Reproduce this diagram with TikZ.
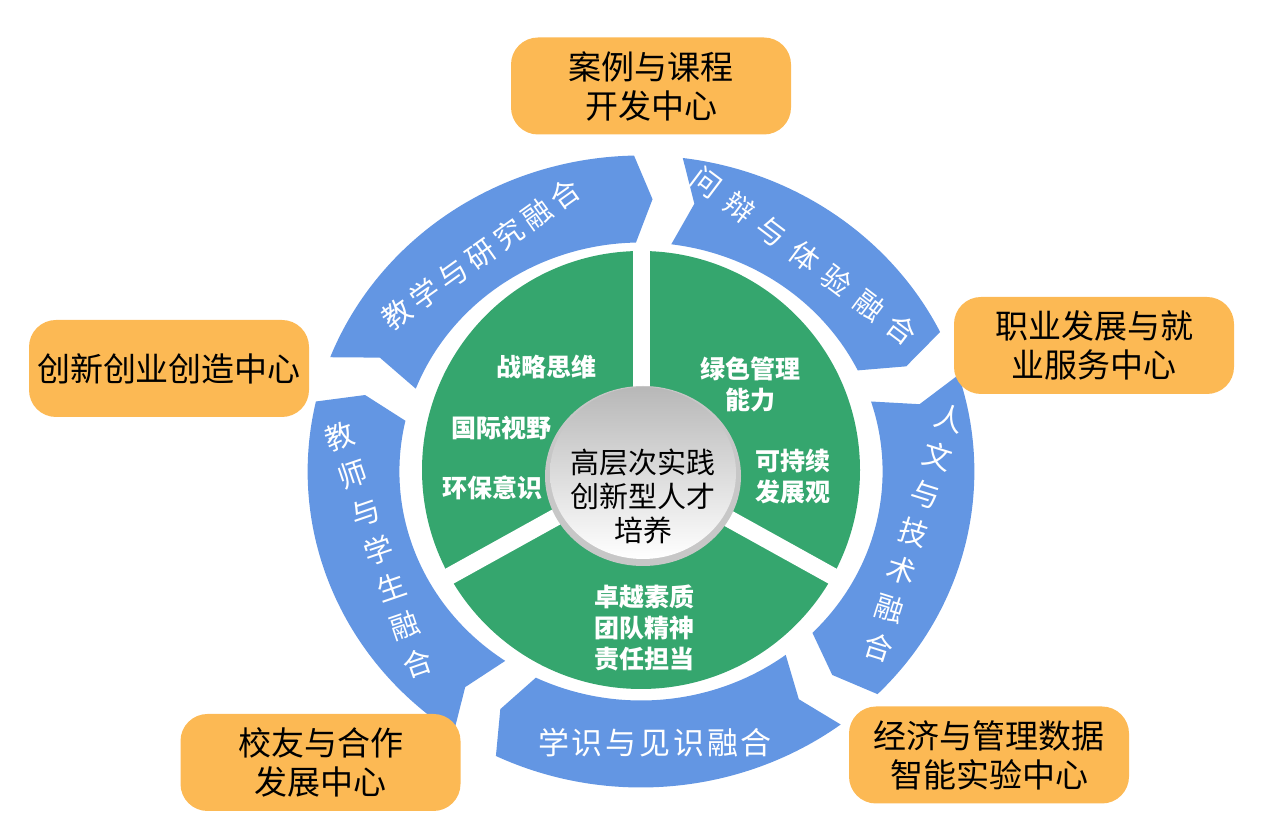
\documentclass[tikz,border=0pt]{standalone}
\usepackage{fontspec}
\newfontfamily\cjk{Noto Sans CJK SC}
\definecolor{ringblue}{HTML}{6396E3}
\definecolor{leafgreen}{HTML}{35A66E}
\definecolor{boxorange}{HTML}{FCB954}
\newcommand\spread[2]{\foreach \c [count=\n] in {#2}{\ifnum\n>1\kern#1\fi\c}}
\tikzset{
  segment/.style={fill=ringblue},
  segtext/.style={text=white, inner sep=0pt, align=center, font=\cjk\fontsize{29}{40}\selectfont},
  leaftext/.style={text=white, align=center, inner sep=0pt, font=\cjk\bfseries\fontsize{25}{31}\selectfont},
  coretext/.style={align=center, inner sep=0pt, font=\cjk\fontsize{29}{34}\selectfont},
  hub/.style={fill=boxorange, rounded corners=27pt, minimum width=280pt, minimum height=97pt,
    align=center, font=\cjk\fontsize{33}{39}\selectfont}
}
\begin{document}
\begin{tikzpicture}[x=1pt, y=1pt]
  \useasboundingbox (0,0) rectangle (1280,840);

  % blue ring, five arrow blocks running clockwise
  \begin{scope}[shift={(641,368.5)}, xscale=1.055]
    \foreach \s/\e in {158.8/91.2, 82.8/26.2, 17.8/-44.8, -53.2/-115.8, -124.2/-192.8}
      \fill[segment] (\s:316) arc[start angle=\s, end angle=\e, radius=316]
        -- ({\e-3.5}:272.5) -- (\e:229) arc[start angle=\e, end angle=\s, radius=229]
        -- ({\s-3.5}:272.5) -- cycle;
  \end{scope}

  % green disk cut into three
  \fill[leafgreen] (641,370) circle[radius=219];
  \foreach \a in {90,209,331}
    \draw[white, line width=17pt] (641,370) -- ++(\a:226);

  % centre disk
  \fill[black!22] (643,364) ellipse[x radius=98, y radius=90];
  \shade[top color=black!28, bottom color=white] (643,367) ellipse[x radius=93, y radius=86];
  \node[coretext] (core) at (643,344) {高层次实践\\创新型人才\\培养};

  % ring labels
  \node[segtext, rotate=35.5] (teach) at (481,586) {\spread{5.4pt}{教,学,与,研,究,融,合}};
  \node[segtext, rotate=-37] (debate) at (804.5,584) {\spread{11.6pt}{问,辩,与,体,验,融,合}};
  \node[segtext, rotate=-17.4] (human) at (914,307.5) {人\\文\\与\\技\\术\\融\\合};
  \node[segtext, font=\cjk\fontsize{31}{31}\selectfont] (know) at (655,97) {\spread{2.8pt}{学,识,与,见,识,融,合}};
  \node[segtext, rotate=18.9] (mentor) at (378.7,290) {教\\师\\与\\学\\生\\融\\合};

  % green labels
  \node[leaftext] (strategy) at (546,473) {战略思维};
  \node[leaftext] (global) at (501,412) {国际视野};
  \node[leaftext] (eco) at (492.5,352) {环保意识};
  \node[leaftext] (green) at (750,456) {绿色管理\\能力};
  \node[leaftext] (sustain) at (792.5,363) {可持续\\发展观};
  \node[leaftext] (quality) at (644,212.5) {卓越素质\\团队精神\\责任担当};

  % orange centres
  \node[hub] (case) at (651,754) {案例与课程\\开发中心};
  \node[hub] (career) at (1094,494.5) {职业发展与就\\业服务中心};
  \node[hub] (startup) at (169,471.5) {创新创业创造中心};
  \node[hub] (alumni) at (320.5,77.5) {校友与合作\\发展中心};
  \node[hub] (datalab) at (989,85) {经济与管理数据\\智能实验中心};
\end{tikzpicture}
\end{document}
